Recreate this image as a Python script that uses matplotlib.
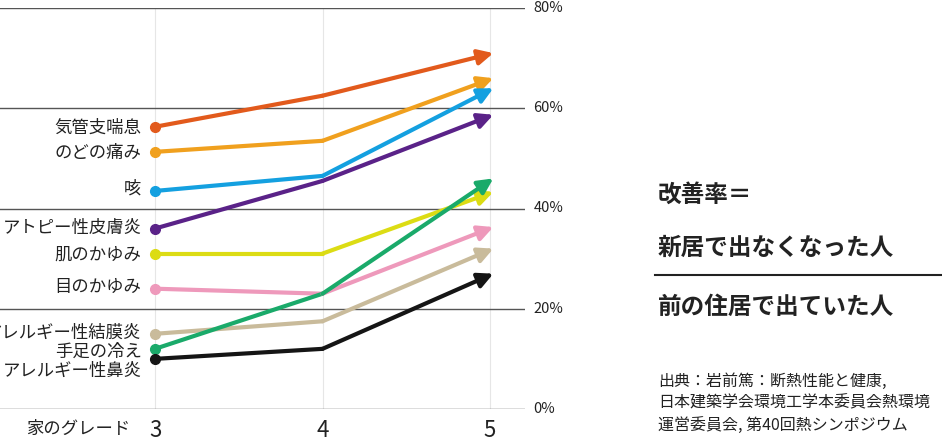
import matplotlib
matplotlib.use("Agg")
import matplotlib.pyplot as plt

plt.rcParams["font.family"] = "Noto Sans CJK JP"

grades = [3, 4, 5]
labels = ["気管支喘息", "のどの痛み", "咳", "アトピー性皮膚炎", "肌のかゆみ",
          "目のかゆみ", "アレルギー性結膜炎", "手足の冷え", "アレルギー性鼻炎"]
values = [
    [56.3, 62.5, 71.0],
    [51.3, 53.5, 66.0],
    [43.5, 46.5, 64.0],
    [36.0, 45.5, 58.7],
    [31.0, 31.0, 43.3],
    [24.0, 23.0, 36.3],
    [15.0, 17.5, 32.0],
    [12.0, 23.0, 46.0],
    [10.0, 12.0, 27.0],
]
colors = ["#e25a1c", "#f0a01e", "#14a0e0", "#5a2288", "#dcdc14",
          "#ee99bb", "#c9bb9b", "#1aaa6a", "#151515"]
label_y = [56.1, 51.1, 43.9, 36.1, 30.8, 24.4, 15.2, 11.4, 7.6]

fig = plt.figure(figsize=(9.42, 4.42), dpi=100)
ax = fig.add_axes([0, 33 / 442, 525 / 942, 401 / 442])
ax.set_xlim(3 - 155 / 167.5, 5 + 35 / 167.5)
ax.set_ylim(0, 80)

for yv in [0, 20, 40, 60, 80]:
    ax.axhline(yv, color="#555555", lw=1, zorder=1)
for g in grades:
    ax.axvline(g, color="#e6e6e6", lw=0.8, zorder=0)

for lab, vals, c, ly in zip(labels, values, colors, label_y):
    ax.plot(grades[:2], vals[:2], color=c, lw=3, solid_capstyle="round", zorder=3)
    ax.plot(grades[0], vals[0], "o", color=c, ms=7, zorder=4)
    ax.annotate("", xy=(grades[2] + 0.02, vals[2]), xytext=(grades[1], vals[1]),
                arrowprops=dict(arrowstyle="-|>,head_length=0.9,head_width=0.45",
                                color=c, lw=3, shrinkA=0, shrinkB=0), zorder=4)
    ax.text(2.92, ly, lab, ha="right", va="center", fontsize=12.5, color="#222222")

for s in ax.spines.values():
    s.set_visible(False)
ax.set_xticks([])
ax.set_yticks([])
for yv in [0, 20, 40, 60, 80]:
    ax.text(5.26, yv, f"{yv}%", ha="left", va="center", fontsize=10.5,
            color="#222222", clip_on=False)
for g in grades:
    ax.text(g, -4.2, str(g), ha="center", va="center", fontsize=16, color="#222222")
ax.text(2.85, -4.0, "家のグレード", ha="right", va="center", fontsize=12.5, color="#222222")

fig.text(658 / 942, 1 - 195 / 442, "改善率＝", fontsize=17, va="center",
         fontweight="bold", color="#222222")
fig.text(658 / 942, 1 - 248 / 442, "新居で出なくなった人", fontsize=17, va="center",
         fontweight="bold", color="#222222")
fig.add_artist(plt.Line2D([655 / 942, 1], [1 - 275 / 442] * 2, color="#222222", lw=1.5))
fig.text(658 / 942, 1 - 307 / 442, "前の住居で出ていた人", fontsize=17, va="center",
         fontweight="bold", color="#222222")
src = ["出典：岩前篤：断熱性能と健康,", "日本建築学会環境工学本委員会熱環境",
       "運営委員会, 第40回熱シンポジウム"]
for i, t in enumerate(src):
    fig.text(658 / 942, 1 - (381 + 22 * i) / 442, t, fontsize=11.5, va="center",
             color="#222222")

fig.savefig("out.png", dpi=100)
